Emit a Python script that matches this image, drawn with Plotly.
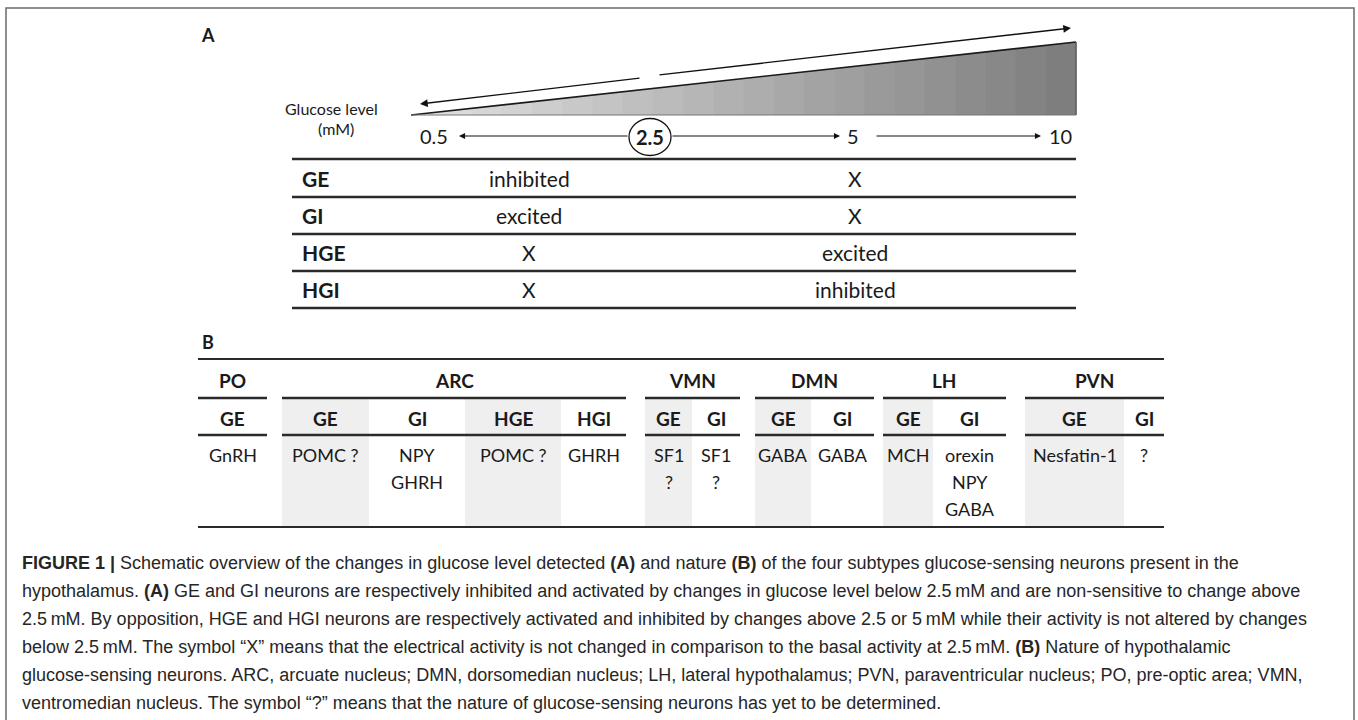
import plotly.graph_objects as go

W, H = 1358, 720

# ---------------- data ----------------
glucose_ticks = ["0.5", "2.5", "5", "10"]
neuron_types = ["GE", "GI", "HGE", "HGI"]
resp_below = ["inhibited", "excited", "X", "X"]
resp_above = ["X", "X", "excited", "inhibited"]
regions = ["PO", "ARC", "VMN", "DMN", "LH", "PVN"]
region_subtypes = [["GE"], ["GE", "GI", "HGE", "HGI"], ["GE", "GI"],
                   ["GE", "GI"], ["GE", "GI"], ["GE", "GI"]]
region_neurons = [["GnRH"], ["POMC ?", "NPY\nGHRH", "POMC ?", "GHRH"],
                  ["SF1\n?", "SF1\n?"], ["GABA", "GABA"],
                  ["MCH", "orexin\nNPY\nGABA"], ["Nesfatin-1", "?"]]
caption_lines = [
    "<b>FIGURE 1 |</b> Schematic overview of the changes in glucose level detected <b>(A)</b> and nature <b>(B)</b> of the four subtypes glucose-sensing neurons present in the",
    "hypothalamus. <b>(A)</b> GE and GI neurons are respectively inhibited and activated by changes in glucose level below 2.5\u2009mM and are non-sensitive to change above",
    "2.5\u2009mM. By opposition, HGE and HGI neurons are respectively activated and inhibited by changes above 2.5 or 5\u2009mM while their activity is not altered by changes",
    "below 2.5\u2009mM. The symbol \u201cX\u201d means that the electrical activity is not changed in comparison to the basal activity at 2.5\u2009mM. <b>(B)</b> Nature of hypothalamic",
    "glucose-sensing neurons. ARC, arcuate nucleus; DMN, dorsomedian nucleus; LH, lateral hypothalamus; PVN, paraventricular nucleus; PO, pre-optic area; VMN,",
    "ventromedian nucleus. The symbol \u201c?\u201d means that the nature of glucose-sensing neurons has yet to be determined.",
]

# ---------------- layout constants ----------------
FONT = "Lato, 'Open Sans', sans-serif"
CAP_FONT = "'Liberation Sans', Arial, sans-serif"
INK = "#1a1a1a"

# panel A geometry
tri_x0, tri_x1, tri_base, tri_top = 411, 1076, 115, 42
arrow_tail_l, arrow_tip_l = (641, 78), (420, 104)
arrow_tail_r, arrow_tip_r = (658, 75), (1071, 28)
num_y = 136
tick_x = [434, 650, 853, 1060]
circle_r = (21, 18.5)
tableA_x = (292, 1076)
tableA_lines = [159, 197, 234, 271, 308]
colA = [529, 855]

# panel B geometry
tableB_x = (198, 1164)
tableB_top, grp_y, grp_line, sub_y, sub_line, data_y, tableB_bot = 359, 380, 398, 418, 435, 455, 527
line_gap = 27
sub_edges = [[198, 267], [282, 369, 465, 561, 626], [645, 692, 740],
             [755, 811, 874], [883, 933, 1006], [1025, 1124, 1164]]

shapes = []
annotations = []


def text(x, y, s, size=19, bold=False, anchor="center", color=INK, font=FONT):
    annotations.append(dict(
        x=x, y=y, xref="x", yref="y", text=("<b>%s</b>" % s) if bold else s,
        showarrow=False, xanchor=anchor, yanchor="middle",
        font=dict(family=font, size=size, color=color)))


def hline(x0, x1, y, w=2.2, c="#2a2a2a"):
    shapes.append(dict(type="line", xref="x", yref="y", x0=x0, x1=x1, y0=y, y1=y,
                       line=dict(color=c, width=w)))


def arrow(tip, tail, w=1.4):
    annotations.append(dict(
        x=tip[0], y=tip[1], ax=tail[0], ay=tail[1], xref="x", yref="y",
        axref="x", ayref="y", text="", showarrow=True, arrowhead=2,
        arrowsize=1.1, arrowwidth=w, arrowcolor="#111"))


# frame
shapes.append(dict(type="rect", xref="paper", yref="paper", x0=6 / W, x1=1354 / W, y0=-0.05, y1=1 - 8 / H,
                   line=dict(color="#6a6a6a", width=1.5), fillcolor="rgba(0,0,0,0)"))

# panel letters
text(208, 35, "A", size=18, bold=True)
text(208, 342, "B", size=18, bold=True)

# gradient triangle (banded)
n_strips = 22
slope = (tri_base - tri_top) / (tri_x1 - tri_x0)
for i in range(n_strips):
    xa = tri_x0 + (tri_x1 - tri_x0) * i / n_strips
    xb = tri_x0 + (tri_x1 - tri_x0) * (i + 1) / n_strips
    ya = tri_base - (xa - tri_x0) * slope
    yb = tri_base - (xb - tri_x0) * slope
    g = int(round(226 - (226 - 124) * (i + 0.5) / n_strips))
    shapes.append(dict(type="path", xref="x", yref="y",
                       path="M %.2f %.2f L %.2f %.2f L %.2f %.2f L %.2f %.2f Z" % (xa, tri_base, xa, ya, xb + 0.6, yb, xb + 0.6, tri_base),
                       fillcolor="rgb(%d,%d,%d)" % (g, g, g), line=dict(width=0)))
shapes.append(dict(type="line", xref="x", yref="y", x0=tri_x0, y0=tri_base, x1=tri_x1, y1=tri_top,
                   line=dict(color="#1a1a1a", width=1.6)))
shapes.append(dict(type="line", xref="x", yref="y", x0=tri_x1, y0=tri_top, x1=tri_x1, y1=tri_base,
                   line=dict(color="#555", width=1.2)))
hline(tri_x0, tri_x1, tri_base, w=1, c="#777")

# top double arrow (with a gap)
arrow(arrow_tip_l, arrow_tail_l)
arrow(arrow_tip_r, arrow_tail_r)

# glucose level label
text(331, 108, "Glucose level", size=16)
text(336, 128, "(mM)", size=16)

# number line
text(tick_x[0], num_y, glucose_ticks[0], size=20)
shapes.append(dict(type="circle", xref="x", yref="y",
                   x0=tick_x[1] - circle_r[0], x1=tick_x[1] + circle_r[0],
                   y0=num_y - circle_r[1] + 1, y1=num_y + circle_r[1] + 1,
                   line=dict(color="#111", width=1.3), fillcolor="white"))
text(tick_x[1], num_y + 1, glucose_ticks[1], size=20, bold=True)
text(tick_x[2], num_y, glucose_ticks[2], size=20)
text(tick_x[3], num_y, glucose_ticks[3], size=20)
arrow((tick_x[0] + 25, num_y), (tick_x[1] - circle_r[0], num_y), w=1.1)
arrow((tick_x[2] - 13, num_y), (tick_x[1] + circle_r[0], num_y), w=1.1)
arrow((tick_x[3] - 19, num_y), (tick_x[2] + 22, num_y), w=1.1)

# table A
for y in tableA_lines:
    hline(tableA_x[0], tableA_x[1], y, w=2.6)
for i, nt in enumerate(neuron_types):
    yc = (tableA_lines[i] + tableA_lines[i + 1]) / 2
    text(300, yc, nt, size=21, bold=True, anchor="left")
    text(colA[0], yc, resp_below[i], size=21)
    text(colA[1], yc, resp_above[i], size=21)

# table B shading
for g, edges in enumerate(sub_edges):
    if len(edges) > 2:
        for j in range(0, len(edges) - 1, 2):
            shapes.append(dict(type="rect", xref="x", yref="y", layer="below",
                               x0=edges[j], x1=edges[j + 1], y0=grp_line, y1=tableB_bot,
                               fillcolor="#efefef", line=dict(width=0)))

hline(tableB_x[0], tableB_x[1], tableB_top, w=2.2)
hline(tableB_x[0], tableB_x[1], tableB_bot, w=2.2)
for g, edges in enumerate(sub_edges):
    hline(edges[0], edges[-1], grp_line, w=2.4)
    hline(edges[0], edges[-1], sub_line, w=2.4)
    text((edges[0] + edges[-1]) / 2, grp_y, regions[g], size=19, bold=True)
    for j, st in enumerate(region_subtypes[g]):
        xc = (edges[j] + edges[j + 1]) / 2
        text(xc, sub_y, st, size=19, bold=True)
        for k, ln in enumerate(region_neurons[g][j].split("\n")):
            text(xc, data_y + k * line_gap, ln, size=18)

# caption
for i, ln in enumerate(caption_lines):
    text(20, 563 + 28 * i, ln, size=18, anchor="left", color="#262626", font=CAP_FONT)

fig = go.Figure()
fig.update_layout(
    width=W, height=H, margin=dict(l=0, r=0, t=0, b=0),
    paper_bgcolor="white", plot_bgcolor="white",
    xaxis=dict(range=[0, W], visible=False, fixedrange=True),
    yaxis=dict(range=[H, 0], visible=False, fixedrange=True),
    shapes=shapes, annotations=annotations, showlegend=False,
)
fig.write_html("out.html", config={"displayModeBar": False, "staticPlot": True},
               post_script="document.body.style.margin='0px';document.body.style.overflow='hidden';")
